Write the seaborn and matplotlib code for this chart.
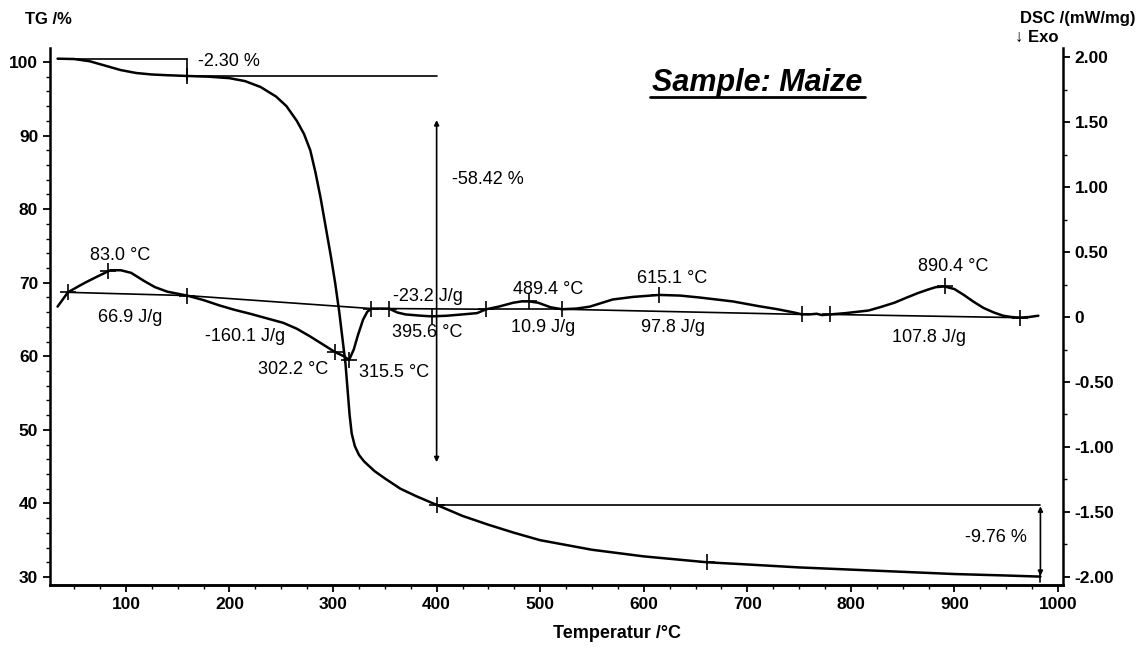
import numpy as np
import matplotlib
matplotlib.use("Agg")
import matplotlib.pyplot as plt
import seaborn as sns
from matplotlib.ticker import MultipleLocator, FuncFormatter

sns.set_style("ticks")
plt.rcParams['font.family'] = ['Liberation Sans', 'DejaVu Sans']
plt.rcParams['axes.unicode_minus'] = False
for key in ("text.color", "axes.labelcolor", "xtick.color", "ytick.color", "axes.edgecolor"):
    plt.rcParams[key] = "black"

# TG curve (mass %)
tg_temp = [34, 50, 65, 80, 95, 110, 125, 140, 159, 180, 200, 215, 230, 245, 255, 265,
           272, 278, 283, 288, 293, 298, 302, 306, 309, 312, 314, 316, 318, 321, 325,
           330, 340, 350, 365, 380, 400, 425, 450, 475, 500, 550, 600, 661, 700, 750,
           800, 850, 900, 950, 983]
tg_mass = [100.45, 100.4, 100.1, 99.5, 98.9, 98.5, 98.3, 98.2, 98.1, 98.0, 97.8, 97.4,
           96.6, 95.3, 94.0, 92.0, 90.2, 88.0, 85.0, 81.5, 77.5, 73.5, 70.0, 66.0, 62.5,
           59.0, 55.5, 52.0, 49.5, 47.8, 46.6, 45.7, 44.4, 43.4, 42.0, 41.0, 39.8, 38.3,
           37.1, 36.0, 35.0, 33.7, 32.8, 32.0, 31.7, 31.3, 31.0, 30.7, 30.4, 30.2, 30.05]

# DSC curve (mW/mg)
dsc_temp = [34, 44, 55, 62, 72, 85, 95, 105, 117, 128, 140, 159, 175, 190, 205, 220, 236,
            252, 265, 278, 290, 302, 310, 315.5, 320, 324, 329, 333, 337, 345, 354, 362,
            370, 385, 395.6, 410, 425, 439, 448, 460, 474, 482, 489.4, 498, 510, 521, 535,
            548, 560, 570, 590, 615, 635, 654, 670, 686, 710, 729, 745, 753, 760, 767,
            772, 780, 795, 806, 817, 828, 842, 854, 865, 874, 882, 890.4, 900, 909, 918,
            928, 938, 947, 955, 963, 972, 981]
dsc_signal = [0.08, 0.19, 0.24, 0.27, 0.31, 0.36, 0.36, 0.34, 0.28, 0.23, 0.195, 0.165,
              0.13, 0.09, 0.055, 0.025, -0.01, -0.045, -0.09, -0.15, -0.21, -0.27, -0.30,
              -0.33, -0.25, -0.14, -0.02, 0.04, 0.065, 0.065, 0.065, 0.035, 0.02, 0.01,
              0.005, 0.01, 0.02, 0.03, 0.06, 0.08, 0.11, 0.12, 0.12, 0.11, 0.075, 0.06,
              0.065, 0.08, 0.11, 0.135, 0.155, 0.17, 0.165, 0.15, 0.135, 0.12, 0.085,
              0.06, 0.035, 0.02, 0.02, 0.025, 0.015, 0.02, 0.03, 0.04, 0.05, 0.075, 0.11,
              0.15, 0.185, 0.21, 0.23, 0.235, 0.215, 0.17, 0.12, 0.07, 0.035, 0.01, 0.0,
              -0.005, 0.0, 0.01]

# DSC evaluation marks and integration baselines
dsc_marks = [44, 83.0, 159, 302.2, 315.5, 337, 354, 395.6, 448, 489.4, 521, 615.1, 753,
             780, 890.4, 963]
dsc_baselines = [(44, 159), (159, 337), (354, 448), (448, 521), (521, 753), (780, 963)]
peak_labels = ["83.0 °C", "302.2 °C", "315.5 °C", "395.6 °C", "489.4 °C", "615.1 °C",
               "890.4 °C"]
peak_label_pos = [(94, 0.47), (261, -0.40), (359, -0.43), (391, -0.12), (508, 0.21),
                  (627, 0.30), (899, 0.39)]
area_labels = ["66.9 J/g", "-160.1 J/g", "-23.2 J/g", "10.9 J/g", "97.8 J/g", "107.8 J/g"]
area_label_pos = [(104, 0.0), (215, -0.15), (392, 0.16), (503, -0.08), (628, -0.08),
                  (875, -0.16)]

# TG mass-loss steps
tg_step_temps = [34, 159, 400, 983]
tg_step_labels = ["-2.30 %", "-58.42 %", "-9.76 %"]
tg_marks = [159, 400, 661]

fig = plt.figure(figsize=(11.36, 6.47), dpi=100)
ax = fig.add_axes([50 / 1136, 1 - 585 / 647, 1013 / 1136, 537 / 647])
ax2 = ax.twinx()

lw = 1.8
sns.lineplot(x=tg_temp, y=tg_mass, ax=ax, color="black", linewidth=lw)
sns.lineplot(x=dsc_temp, y=dsc_signal, ax=ax2, color="black", linewidth=lw)

# TG step construction lines
lv = np.interp(tg_step_temps, tg_temp, tg_mass)
ax.plot([tg_step_temps[0], tg_step_temps[1]], [lv[0], lv[0]], color="black", lw=1.2)
ax.plot([tg_step_temps[1], tg_step_temps[1]], [lv[0], lv[1] - 0.6], color="black", lw=1.2)
ax.plot([tg_step_temps[1], tg_step_temps[2]], [lv[1], lv[1]], color="black", lw=1.2)
ax.plot([tg_step_temps[2], tg_step_temps[3]], [lv[2], lv[2]], color="black", lw=1.2)
ax.plot(tg_marks, np.interp(tg_marks, tg_temp, tg_mass), "+", color="black", ms=11, mew=1.2)

arrow = dict(arrowstyle="<|-|>", color="black", lw=1.2, mutation_scale=7, shrinkA=0, shrinkB=0)
ax.annotate("", xy=(tg_step_temps[2], 92.1), xytext=(tg_step_temps[2], 45.6), arrowprops=arrow)
ax.annotate("", xy=(tg_step_temps[3], lv[2] - 0.2), xytext=(tg_step_temps[3], lv[3] + 0.1),
            arrowprops=arrow)
ax.plot([tg_step_temps[3], tg_step_temps[3]], [lv[3] - 0.8, lv[3] + 0.5], color="black", lw=1.2)

ax.text(170, 100.0, tg_step_labels[0], fontsize=13, va="center", ha="left")
ax.text(415, 84.0, tg_step_labels[1], fontsize=13, va="center", ha="left")
ax.text(970, 35.3, tg_step_labels[2], fontsize=13, va="center", ha="right")

# DSC baselines and marks
for t1, t2 in dsc_baselines:
    y1, y2 = np.interp([t1, t2], dsc_temp, dsc_signal)
    ax2.plot([t1, t2], [y1, y2], color="black", lw=1.2)
ax2.plot(dsc_marks, np.interp(dsc_marks, dsc_temp, dsc_signal), "+", color="black",
         ms=11, mew=1.2)
for lab, (x, y) in zip(peak_labels, peak_label_pos):
    ax2.text(x, y, lab, fontsize=13, ha="center", va="center")
for lab, (x, y) in zip(area_labels, area_label_pos):
    ax2.text(x, y, lab, fontsize=13, ha="center", va="center")

# axes
ax.set_xlim(26.7, 1004.8)
ax.set_ylim(28.91, 101.9)
ax2.set_ylim(-2.062, 2.07)
ax.xaxis.set_major_locator(MultipleLocator(100))
ax.xaxis.set_minor_locator(MultipleLocator(25))
ax.yaxis.set_major_locator(MultipleLocator(10))
ax.yaxis.set_minor_locator(MultipleLocator(2))
ax2.yaxis.set_major_locator(MultipleLocator(0.5))
ax2.yaxis.set_minor_locator(MultipleLocator(0.25))
ax2.yaxis.set_major_formatter(FuncFormatter(lambda v, p: "0" if abs(v) < 1e-9 else f"{v:.2f}"))

for a in (ax, ax2):
    a.spines["top"].set_visible(False)
    for s in a.spines.values():
        s.set_linewidth(1.8)
ax.spines["right"].set_visible(False)
ax2.spines["left"].set_visible(False)
ax.tick_params(which="major", length=5, width=1.3, labelsize=12.5)
ax.tick_params(which="minor", length=3, width=1.0)
ax2.tick_params(which="major", length=5, width=1.3, labelsize=12.5)
ax2.tick_params(which="minor", length=3, width=1.0)
for lab in ax.get_xticklabels() + ax.get_yticklabels() + ax2.get_yticklabels():
    lab.set_fontweight("bold")

ax.set_xlabel("Temperatur /°C", fontsize=13, fontweight="bold")
ax.xaxis.set_label_coords(0.56, -0.075)
ax.set_ylabel("")
ax2.set_ylabel("")

fig.text(25 / 1136, 1 - 19 / 647, "TG /%", fontsize=12, fontweight="bold", va="center")
fig.text(1136 / 1136, 1 - 18 / 647, "DSC /(mW/mg)", fontsize=12, fontweight="bold",
         va="center", ha="right")
fig.text(1015 / 1136, 1 - 37 / 647, "↓ Exo", fontsize=12, fontweight="bold", va="center")
fig.text(757 / 1136, 1 - 83 / 647, "Sample: Maize", fontsize=22, fontweight="bold",
         style="italic", ha="center", va="center")
fig.add_artist(plt.Line2D([650 / 1136, 865 / 1136], [1 - 97 / 647, 1 - 97 / 647],
                          color="black", lw=2))

fig.savefig("out.png", dpi=100)
